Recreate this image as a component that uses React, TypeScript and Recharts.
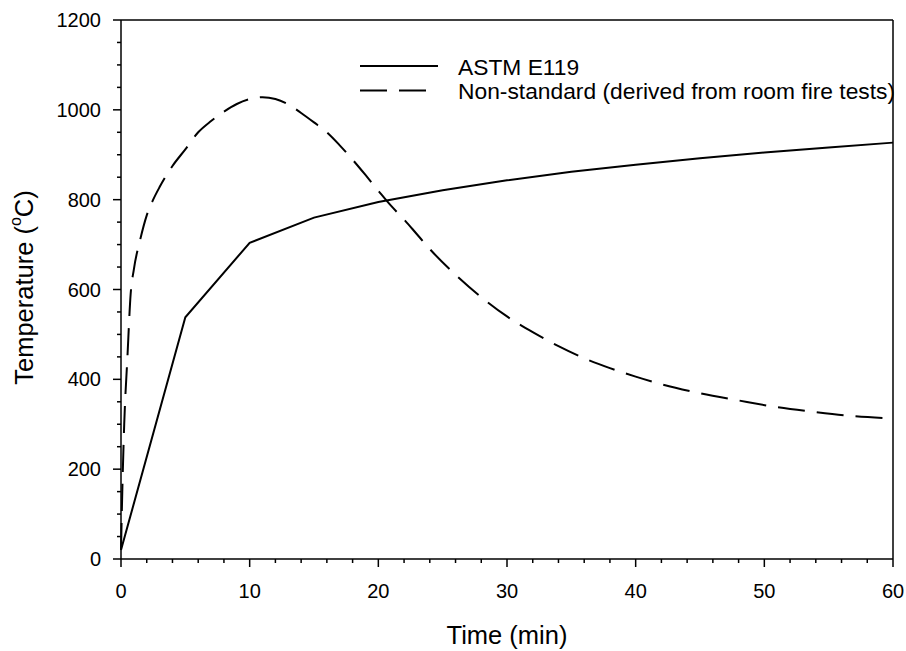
import React from "react";
import { LineChart, Line, XAxis, YAxis, ReferenceLine, Legend } from "recharts";

const astmTime = [0, 5, 10, 15, 20, 25, 30, 35, 40, 45, 50, 55, 60];
const astmTemp = [20, 538, 704, 760, 795, 821, 843, 862, 878, 892, 905, 916, 927];

const nonStdTime = [
  0, 0.1, 0.25, 0.5, 0.75, 1, 1.5, 2, 2.5, 3, 4, 5, 6, 7, 8, 9, 10, 11, 12, 13, 14, 15, 16, 17, 18, 19, 20,
  21, 22, 23, 24, 26, 28, 30, 32, 34, 36, 38, 40, 42, 45, 48, 51, 54, 57, 60,
];
const nonStdTemp = [
  20, 150, 300, 450, 590, 645, 712, 765, 800, 828, 875, 912, 950, 975, 996, 1013, 1024, 1028, 1024, 1012, 993,
  972, 950, 921, 889, 855, 820, 786, 756, 723, 690, 633, 583, 540, 505, 474, 447, 425, 406, 389, 369, 353, 338,
  327, 318, 313,
];

const seriesNames = ["ASTM E119", "Non-standard (derived from room fire tests)"];

const xTicks = [
  0, 2, 4, 6, 8, 10, 12, 14, 16, 18, 20, 22, 24, 26, 28, 30, 32, 34, 36, 38, 40, 42, 44, 46, 48, 50, 52, 54, 56,
  58, 60,
];
const yTicks = [
  0, 50, 100, 150, 200, 250, 300, 350, 400, 450, 500, 550, 600, 650, 700, 750, 800, 850, 900, 950, 1000, 1050,
  1100, 1150, 1200,
];

const astmData = astmTime.map((t, i) => ({ t, temp: astmTemp[i] }));
const nonStdData = nonStdTime.map((t, i) => ({ t, temp: nonStdTemp[i] }));

const FONT = '"Liberation Sans", Arial, sans-serif';
const DASH = "27 12";

const XTick = ({ x, y, payload }: any) => {
  const major = payload.value % 10 === 0;
  return (
    <g>
      <line x1={x} x2={x} y1={y} y2={y + (major ? 8 : 4)} stroke="#000" strokeWidth={1.5} />
      {major && (
        <text x={x} y={y + 39} textAnchor="middle" fontSize={20} fontFamily={FONT} fill="#000">
          {payload.value}
        </text>
      )}
    </g>
  );
};

const YTick = ({ x, y, payload }: any) => {
  const major = payload.value % 200 === 0;
  return (
    <g>
      <line x1={x} x2={x - (major ? 8 : 4)} y1={y} y2={y} stroke="#000" strokeWidth={1.5} />
      {major && (
        <text x={x - 20} y={y + 7} textAnchor="end" fontSize={20} fontFamily={FONT} fill="#000">
          {payload.value}
        </text>
      )}
    </g>
  );
};

const YTitle = (props: any) => {
  const vb = props.viewBox || { x: 8, y: 20, width: 113, height: 539 };
  const cy = vb.y + vb.height / 2 - 2;
  const cx = 24;
  return (
    <text
      x={cx}
      y={cy}
      transform={`rotate(-90 ${cx} ${cy})`}
      textAnchor="middle"
      dominantBaseline="central"
      fontSize={25.5}
      fontFamily={FONT}
      fill="#000"
    >
      Temperature (<tspan dy={-9} fontSize={16}>o</tspan>
      <tspan dy={9}>C)</tspan>
    </text>
  );
};

const XTitle = (props: any) => {
  const vb = props.viewBox || { x: 121, y: 559, width: 772, height: 92 };
  return (
    <text x={vb.x + vb.width / 2} y={vb.y + 85} textAnchor="middle" fontSize={25.5} fontFamily={FONT} fill="#000">
      Time (min)
    </text>
  );
};

const LegendBox = () => (
  <svg width={906} height={120} style={{ display: "block" }}>
    <line x1={360} x2={438} y1={66} y2={66} stroke="#000" strokeWidth={2} />
    <text x={458} y={75} fontSize={22.8} fontFamily={FONT} fill="#000">
      {seriesNames[0]}
    </text>
    <line x1={360} x2={438} y1={90.5} y2={90.5} stroke="#000" strokeWidth={2} strokeDasharray={DASH} />
    <text x={458} y={98.5} fontSize={22.8} fontFamily={FONT} fill="#000">
      {seriesNames[1]}
    </text>
  </svg>
);

export default function App() {
  return (
    <div style={{ width: 906, height: 651, background: "#fff", overflow: "hidden" }}>
      <style>{`html, body { margin: 0; padding: 0; overflow: hidden; }`}</style>
      <LineChart width={906} height={651} margin={{ top: 20, right: 13, left: 8, bottom: 0 }}>
        <XAxis
          dataKey="t"
          type="number"
          domain={[0, 60]}
          ticks={xTicks}
          interval={0}
          tickSize={0}
          tickMargin={0}
          tickLine={false}
          tick={<XTick />}
          height={92}
          axisLine={{ stroke: "#000", strokeWidth: 1.5 }}
          allowDuplicatedCategory={false}
          label={{ content: (p: any) => <XTitle {...p} /> }}
        />
        <YAxis
          type="number"
          domain={[0, 1200]}
          ticks={yTicks}
          interval={0}
          tickSize={0}
          tickMargin={0}
          tickLine={false}
          tick={<YTick />}
          width={113}
          axisLine={{ stroke: "#000", strokeWidth: 1.5 }}
          label={{ content: (p: any) => <YTitle {...p} /> }}
        />
        <ReferenceLine y={1200} stroke="#000" strokeWidth={1.5} />
        <ReferenceLine x={60} stroke="#000" strokeWidth={1.5} />
        <Legend
          layout="horizontal"
          verticalAlign="middle"
          content={() => <LegendBox />}
          wrapperStyle={{ position: "absolute", left: 0, top: 0, width: 906, height: 120, pointerEvents: "none" }}
        />
        <Line
          data={astmData}
          dataKey="temp"
          name={seriesNames[0]}
          type="linear"
          stroke="#000"
          strokeWidth={2}
          dot={false}
          isAnimationActive={false}
        />
        <Line
          data={nonStdData}
          dataKey="temp"
          name={seriesNames[1]}
          type="monotone"
          stroke="#000"
          strokeWidth={2}
          strokeDasharray={DASH}
          dot={false}
          isAnimationActive={false}
        />
      </LineChart>
    </div>
  );
}
